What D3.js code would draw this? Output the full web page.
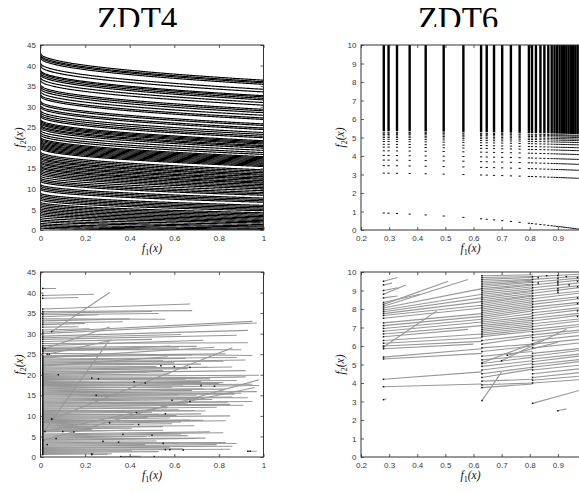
<!DOCTYPE html>
<html>
<head>
<meta charset="utf-8">
<script src="https://cdn.jsdelivr.net/npm/d3@7"></script>
<style>
  html, body { margin: 0; padding: 0; background: #fff; }
  svg { display: block; }
  .tick text { font-family: "Liberation Sans", Arial, sans-serif; font-size: 8px; fill: #3a3a3a; }
  .tick line { stroke: #333; stroke-width: 0.8; }
</style>
</head>
<body>
<script>
// ---------------- data ----------------
const titles = ["ZDT4", "ZDT6"];

// ZDT4 front levels: g values (f2 at f1 = 0) of the plotted fronts
const zdt4Levels = [
  43.0, 42.6, 42.3, 41.9, 40.6, 39.9, 38.9, 38.6, 38.2, 37.8, 37.1, 36.4,
  35.3, 34.9, 34.4, 33.7, 33.0, 32.6, 31.4, 31.0, 30.3, 29.9, 29.1, 28.6,
  28.1, 27.7, 26.9, 26.6, 26.3, 26.0, 25.6, 25.3, 24.9, 24.3, 23.7, 23.2,
  22.6, 22.3, 22.0, 21.7, 21.4, 21.1, 20.8, 20.5, 20.2, 19.9, 19.0, 18.6,
  18.2, 17.8, 17.5, 17.1, 16.7, 16.4, 16.0, 15.6, 15.3, 14.9, 14.5, 14.1,
  13.7, 13.2, 12.7, 12.3, 11.9, 11.1, 10.7, 10.3, 9.9, 9.0, 8.6, 8.2,
  7.8, 7.4, 6.8, 6.4, 6.0, 5.6, 5.2, 4.8, 4.4, 4.0, 3.6, 3.1, 2.6, 2.2,
  1.7, 1.3, 0.9, 0.5
];

// ZDT6 front: f1 columns, sparse g levels, and g above which columns are solid
const zdt6Columns = [
  0.281, 0.298, 0.328, 0.373, 0.430, 0.494, 0.564, 0.627, 0.647, 0.673,
  0.702, 0.733, 0.764, 0.797, 0.808, 0.822, 0.838, 0.852, 0.866, 0.878,
  0.888, 0.897, 0.906, 0.914, 0.922, 0.930, 0.938, 0.946, 0.954, 0.962,
  0.970, 0.978, 0.986, 0.994
];
const zdt6SparseLevels = [1.0, 3.1, 3.5, 3.8, 4.05, 4.3, 4.5, 4.65, 4.8, 4.92, 5.02, 5.1, 5.18, 5.25, 5.3];
const zdt6DenseFrom = 5.36;

// ZDT4 search trails: [f1 start, f2 start, f1 end, f2 end]
const zdt4Trails = [
  [0.01,41.0,0.07,41.0],[0.01,39.3,0.24,39.6],[0.01,38.6,0.17,38.8],[0.05,30.5,0.31,40.0],
  [0.01,36.0,0.67,37.2],[0.01,35.4,0.68,35.6],[0.01,35.0,0.50,35.4],[0.01,34.6,0.53,34.9],
  [0.01,34.1,0.26,34.6],[0.01,33.6,0.56,33.5],[0.01,33.1,0.40,33.6],[0.01,32.6,0.37,32.9],
  [0.01,32.2,0.20,32.5],[0.01,31.6,0.17,31.7],[0.01,30.9,0.22,31.2],[0.01,30.4,0.95,33.0],
  [0.01,30.0,0.97,32.6],[0.01,29.4,0.93,30.8],[0.02,26.4,0.31,31.6],[0.01,29.0,0.63,29.8],
  [0.01,28.6,0.88,29.6],[0.01,28.1,0.50,28.6],[0.01,27.6,0.93,27.8],[0.01,27.1,0.73,28.4],
  [0.01,26.7,0.70,26.9],[0.01,26.1,0.90,26.1],[0.01,25.6,0.58,27.0],[0.01,25.2,0.95,24.7],
  [0.01,24.6,0.83,25.1],[0.03,25.0,0.32,28.4],[0.01,24.1,0.78,26.7],[0.01,23.6,0.65,24.0],
  [0.01,23.1,0.82,23.3],[0.01,22.6,0.60,22.9],[0.01,22.1,0.57,24.4],[0.01,21.6,0.75,21.8],
  [0.01,21.1,0.66,21.5],[0.01,20.6,0.55,21.0],[0.01,20.1,0.48,20.6],[0.01,19.6,0.98,19.9],
  [0.01,19.1,0.70,19.3],[0.01,18.6,0.92,19.5],[0.01,18.1,0.82,18.1],[0.01,17.6,0.80,17.9],
  [0.01,17.1,0.64,17.5],[0.01,16.6,0.98,17.4],[0.01,16.1,0.73,16.6],[0.01,15.6,0.97,15.9],
  [0.01,15.1,0.90,15.5],[0.01,14.6,0.70,14.9],[0.01,14.1,0.86,14.6],[0.01,13.6,0.77,14.0],
  [0.01,13.1,0.95,13.5],[0.01,12.6,0.85,12.8],[0.01,12.1,0.60,12.6],[0.01,11.6,0.79,12.1],
  [0.01,11.1,0.62,11.5],[0.01,10.6,0.50,10.9],[0.01,10.1,0.72,10.5],[0.01,9.6,0.85,10.0],
  [0.01,9.1,0.58,9.5],[0.01,8.6,0.67,9.0],[0.01,8.1,0.63,8.5],[0.01,7.6,0.42,7.9],
  [0.01,7.1,0.55,7.4],[0.01,6.6,0.23,6.7],[0.01,6.1,0.40,6.5],[0.01,5.6,0.76,6.1],
  [0.01,5.1,0.63,5.6],[0.01,4.6,0.47,5.0],[0.01,4.1,0.70,4.5],[0.01,3.6,0.88,3.3],
  [0.01,3.1,0.62,3.4],[0.01,2.6,0.79,3.0],[0.01,2.1,0.58,2.4],[0.01,1.6,0.85,1.9],
  [0.01,1.1,0.53,1.3],[0.01,0.6,0.32,0.8],[0.23,0.6,0.30,0.7],[0.36,0.1,0.45,0.2],
  [0.93,1.4,0.97,1.4],[0.01,5.8,0.31,28.5],[0.01,4.0,0.98,18.8],[0.02,6.2,0.96,16.9],
  [0.05,9.2,0.86,26.6],
  [0.01,26.35,0.62,26.5],[0.01,25.85,0.45,26.2],[0.01,24.35,0.68,24.8],[0.01,23.85,0.88,24.2],
  [0.01,23.35,0.55,23.4],[0.01,22.85,0.92,23.6],[0.01,22.35,0.72,22.6],[0.01,21.85,0.52,22.0],
  [0.01,21.35,0.86,21.9],[0.01,20.85,0.61,20.8],[0.01,20.35,0.92,21.0],[0.01,19.85,0.58,20.2],
  [0.01,19.35,0.76,19.0],[0.01,18.85,0.65,18.9],[0.01,18.35,0.88,18.6],[0.01,17.85,0.72,18.4],
  [0.01,17.35,0.95,17.7],[0.01,16.85,0.59,17.0],[0.01,16.35,0.83,16.5],[0.01,15.85,0.68,16.2],
  [0.01,15.35,0.87,15.3],[0.01,14.85,0.62,15.1],[0.01,14.35,0.93,14.4],[0.01,13.85,0.71,14.2],
  [0.01,13.35,0.84,13.3],[0.01,12.85,0.66,13.1],[0.01,12.35,0.91,12.6],[0.01,11.85,0.57,12.0],
  [0.01,11.35,0.74,11.2],[0.01,10.85,0.69,11.3],[0.01,10.35,0.53,10.4],[0.01,9.85,0.61,10.1],
  [0.01,9.35,0.48,9.6],[0.01,8.85,0.73,8.9],[0.01,8.35,0.83,8.8],[0.01,7.85,0.59,8.1],
  [0.01,7.35,0.69,7.6],[0.01,6.85,0.41,7.0],[0.01,6.35,0.55,6.5],[0.01,5.35,0.82,5.9],
  [0.01,4.85,0.66,5.2],[0.01,4.35,0.74,4.6],[0.01,3.85,0.52,3.9],[0.01,3.35,0.83,3.5],
  [0.01,2.85,0.47,3.0],[0.01,2.35,0.86,2.6],[0.01,1.85,0.64,2.0],[0.01,1.35,0.41,1.5],
  [0.01,0.85,0.24,0.9]
];
const zdt4Points = [
  [0.04,25.0],[0.08,20.0],[0.05,9.2],[0.03,3.0],[0.07,4.5],[0.10,6.2],[0.15,6.1],[0.23,19.2],
  [0.26,19.0],[0.25,15.0],[0.28,3.8],[0.31,8.3],[0.35,3.6],[0.37,5.5],[0.42,18.3],[0.43,10.8],
  [0.44,7.9],[0.47,18.0],[0.50,5.3],[0.54,22.2],[0.55,3.3],[0.56,10.5],[0.56,1.8],[0.58,1.8],
  [0.59,13.8],[0.60,22.0],[0.64,1.7],[0.67,21.8],[0.67,13.5],[0.72,17.4],[0.78,17.2],[0.94,1.4],
  [0.23,0.7],[0.51,0.1]
];

// ZDT6 search trails: [f1 start, f2 start, f1 end, f2 end]
const zdt6Trails = [
  [0.28,9.5,0.33,9.7],[0.28,9.3,0.31,9.4],[0.28,9.0,0.33,9.15],[0.28,8.8,0.36,9.3],
  [0.28,8.6,0.33,8.7],[0.28,8.35,0.41,8.8],[0.28,8.25,0.51,9.5],[0.28,8.15,0.58,9.6],
  [0.28,8.05,0.63,9.1],[0.28,7.95,0.63,8.8],[0.28,7.85,0.63,8.6],[0.28,7.75,0.63,8.4],
  [0.28,7.65,0.63,8.2],[0.28,7.5,0.63,8.05],[0.28,7.25,0.63,7.75],[0.28,7.1,0.63,7.6],
  [0.28,6.95,0.63,7.45],[0.28,6.8,0.63,7.3],[0.28,6.65,0.63,7.1],[0.28,6.5,0.58,6.9],
  [0.28,6.3,0.63,6.65],[0.28,6.15,0.63,6.45],[0.28,6.0,0.63,6.25],[0.28,5.95,0.47,7.9],
  [0.28,5.85,0.60,6.1],[0.28,5.4,0.63,5.85],[0.28,5.3,0.63,5.6],[0.28,4.2,0.63,4.6],
  [0.28,3.8,0.63,3.95],[0.28,3.1,0.29,3.15],
  [0.63,9.8,0.81,9.85],[0.63,9.7,0.81,9.75],[0.63,9.6,0.81,9.7],[0.63,9.5,0.81,9.6],
  [0.63,9.4,0.81,9.55],[0.63,9.3,0.81,9.5],[0.63,9.2,0.81,9.45],[0.63,9.1,0.81,9.35],
  [0.63,9.0,0.81,9.3],[0.63,8.9,0.81,9.2],[0.63,8.8,0.81,9.1],[0.63,8.7,0.81,9.0],
  [0.63,8.6,0.81,8.95],[0.63,8.5,0.81,8.85],[0.63,8.4,0.81,8.75],[0.63,8.3,0.81,8.7],
  [0.63,8.2,0.81,8.6],[0.63,8.1,0.81,8.5],[0.63,8.0,0.81,8.4],[0.63,7.9,0.81,8.3],
  [0.63,7.8,0.81,8.2],[0.63,7.7,0.81,8.1],[0.63,7.6,0.81,8.0],[0.63,7.5,0.81,7.9],
  [0.63,7.4,0.81,7.75],[0.63,7.3,0.81,7.6],[0.63,7.2,0.81,7.5],[0.63,7.1,0.81,7.4],
  [0.63,7.0,0.81,7.3],[0.63,6.9,0.81,7.2],[0.63,6.8,0.81,7.1],[0.63,6.7,0.81,7.0],
  [0.63,6.6,0.81,6.9],[0.63,6.5,0.81,6.8],[0.63,6.3,0.81,6.6],[0.63,6.1,0.81,6.5],
  [0.63,5.9,0.81,6.1],[0.63,5.7,0.81,6.0],[0.63,5.45,0.81,5.7],[0.63,5.25,0.81,5.5],
  [0.63,5.05,0.81,5.4],[0.63,4.9,0.81,5.2],[0.63,4.7,0.81,5.05],[0.63,4.5,0.81,4.85],
  [0.63,4.3,0.81,4.75],[0.63,4.1,0.81,4.2],[0.63,3.9,0.81,4.0],[0.63,3.75,0.81,3.95],
  [0.63,3.05,0.70,4.6],[0.63,5.1,0.84,6.3],[0.70,5.2,0.93,6.9],[0.72,5.5,0.90,6.2],
  [0.81,9.75,1.0,9.9],[0.81,9.6,1.0,9.8],[0.81,9.45,1.0,9.7],[0.81,9.3,1.0,9.6],
  [0.81,9.15,1.0,9.45],[0.81,9.0,1.0,9.3],[0.81,8.85,1.0,9.2],[0.81,8.7,1.0,9.0],
  [0.81,8.55,1.0,8.9],[0.81,8.4,1.0,8.7],[0.81,8.25,1.0,8.6],[0.81,8.1,1.0,8.4],
  [0.81,7.95,1.0,8.3],[0.81,7.8,1.0,8.1],[0.81,7.65,1.0,8.0],[0.81,7.5,1.0,7.8],
  [0.81,7.35,1.0,7.7],[0.81,7.2,1.0,7.5],[0.81,7.05,1.0,7.4],[0.81,6.9,1.0,7.2],
  [0.81,6.75,1.0,7.1],[0.81,6.6,1.0,6.9],[0.81,6.45,1.0,6.8],[0.81,6.3,1.0,6.6],
  [0.81,6.1,1.0,6.4],[0.81,5.9,1.0,6.2],[0.81,5.6,1.0,5.9],[0.81,5.45,1.0,5.8],
  [0.81,5.3,1.0,5.6],[0.81,5.15,1.0,5.5],[0.81,5.0,1.0,5.3],[0.81,4.85,1.0,5.2],
  [0.81,4.7,1.0,5.0],[0.81,4.5,1.0,4.8],[0.81,4.3,1.0,4.6],[0.81,4.15,1.0,4.4],
  [0.81,4.0,1.0,4.2],[0.81,2.9,1.0,3.7],[0.90,2.5,0.93,2.6]
];
const zdt6Points = [
  [0.90,9.8],[0.90,9.65],[0.90,9.5],[0.90,9.4],[0.90,9.3],[0.90,9.1],[0.90,9.0],[0.90,8.9],
  [0.97,9.7],[0.97,9.5],[0.97,9.2],[0.97,8.6],[0.97,8.3],[0.97,7.9],[0.97,7.6],
  [0.83,9.7],[0.83,9.4],[0.86,9.8],[0.93,9.75],[0.94,9.3]
];

// ---------------- layout ----------------
const W = 579, H = 493;
const svg = d3.select("body").append("svg").attr("width", W).attr("height", H);

const panels = [
  { key: "a", left: 40.5, top: 45,  w: 223, h: 185, xd: [0, 1],   yd: [0, 45],
    xt: [0, 0.2, 0.4, 0.6, 0.8, 1], yt: d3.range(0, 46, 5) },
  { key: "b", left: 361,  top: 45,  w: 225, h: 185, xd: [0.2, 1], yd: [0, 10],
    xt: [0.2, 0.3, 0.4, 0.5, 0.6, 0.7, 0.8, 0.9], yt: d3.range(0, 11, 1) },
  { key: "c", left: 40.5, top: 272, w: 223, h: 185, xd: [0, 1],   yd: [0, 45],
    xt: [0, 0.2, 0.4, 0.6, 0.8, 1], yt: d3.range(0, 46, 5) },
  { key: "d", left: 361,  top: 272, w: 225, h: 185, xd: [0.2, 1], yd: [0, 10],
    xt: [0.2, 0.3, 0.4, 0.5, 0.6, 0.7, 0.8, 0.9], yt: d3.range(0, 11, 1) }
];

const fmt = v => String(+v.toFixed(1));

panels.forEach(p => {
  p.x = d3.scaleLinear().domain(p.xd).range([0, p.w]);
  p.y = d3.scaleLinear().domain(p.yd).range([p.h, 0]);
  p.g = svg.append("g").attr("transform", `translate(${p.left},${p.top})`);
  svg.append("clipPath").attr("id", "clip-" + p.key)
    .append("rect").attr("width", p.w).attr("height", p.h);
  p.plot = p.g.append("g").attr("clip-path", `url(#clip-${p.key})`);
});

// ---------------- ZDT4 fronts ----------------
{
  const p = panels[0];
  const f1 = d3.range(0, 1.0001, 0.004);
  const line = d3.line().x(d => p.x(d[0])).y(d => p.y(d[1]));
  p.plot.selectAll("path.front").data(zdt4Levels).join("path")
    .attr("class", "front")
    .attr("d", g => line(f1.map(v => [v, g - Math.sqrt(g * v)])))
    .attr("fill", "none").attr("stroke", "#000").attr("stroke-width", 1.15);
}

// ---------------- ZDT6 fronts ----------------
{
  const p = panels[1];
  const f2 = (f, g) => g - f * f / g;
  p.plot.selectAll("rect.col").data(zdt6Columns).join("rect")
    .attr("class", "col")
    .attr("x", c => p.x(c) - 1.2).attr("width", 2.4)
    .attr("y", p.y(10.5))
    .attr("height", c => p.y(f2(c, zdt6DenseFrom)) - p.y(10.5))
    .attr("fill", "#000");
  const dots = [];
  zdt6Columns.forEach(c => zdt6SparseLevels.forEach(g => dots.push([c, f2(c, g)])));
  p.plot.selectAll("rect.dot").data(dots).join("rect")
    .attr("class", "dot")
    .attr("x", d => p.x(d[0]) - 1.1).attr("width", 2.2)
    .attr("y", d => p.y(d[1]) - 0.5).attr("height", 1)
    .attr("fill", "#111");
}

// ---------------- search trails ----------------
function trails(p, segs, pts) {
  p.plot.selectAll("line.trail").data(segs).join("line")
    .attr("class", "trail")
    .attr("x1", d => p.x(d[0])).attr("y1", d => p.y(d[1]))
    .attr("x2", d => p.x(d[2])).attr("y2", d => p.y(d[3]))
    .attr("stroke", "#979797").attr("stroke-width", 1.1);
  const marks = segs.map(d => [d[0], d[1]]).concat(pts);
  p.plot.selectAll("rect.mk").data(marks).join("rect")
    .attr("class", "mk")
    .attr("x", d => p.x(d[0]) - 0.75).attr("y", d => p.y(d[1]) - 0.75)
    .attr("width", 1.5).attr("height", 1.5).attr("fill", "#111");
}
trails(panels[2], zdt4Trails, zdt4Points);
trails(panels[3], zdt6Trails, zdt6Points);

// ---------------- axes ----------------
panels.forEach(p => {
  const tk = 3;
  p.g.append("g").attr("transform", `translate(0,${p.h})`)
    .call(d3.axisBottom(p.x).tickValues(p.xt).tickSize(-tk).tickPadding(5).tickFormat(fmt))
    .call(s => s.select(".domain").remove());
  p.g.append("g")
    .call(d3.axisTop(p.x).tickValues(p.xt).tickSize(-tk).tickFormat(""))
    .call(s => s.select(".domain").remove());
  p.g.append("g")
    .call(d3.axisLeft(p.y).tickValues(p.yt).tickSize(-tk).tickPadding(4.5).tickFormat(fmt))
    .call(s => s.select(".domain").remove());
  p.g.append("g").attr("transform", `translate(${p.w},0)`)
    .call(d3.axisRight(p.y).tickValues(p.yt).tickSize(-tk).tickFormat(""))
    .call(s => s.select(".domain").remove());
  p.g.selectAll(".tick text").attr("fill", "#3a3a3a");
  p.g.append("rect").attr("width", p.w).attr("height", p.h)
    .attr("fill", "none").attr("stroke", "#333").attr("stroke-width", 1);

  // axis labels
  const lab = (sel, sub) => {
    sel.append("tspan").text("f");
    sel.append("tspan").attr("font-size", "0.7em").attr("dy", 3).attr("font-style", "normal").text(sub);
    sel.append("tspan").attr("dy", -3).text("(");
    sel.append("tspan").text("x");
    sel.append("tspan").text(")");
  };
  const xl = p.g.append("text")
    .attr("x", p.w / 2 - (p.key === "b" || p.key === "d" ? 3 : 0)).attr("y", p.h + 22)
    .attr("text-anchor", "middle")
    .attr("font-family", "'Liberation Serif', 'DejaVu Serif', serif")
    .attr("font-style", "italic").attr("font-size", 11.5).attr("fill", "#111");
  lab(xl, "1");
  const yl = p.g.append("text")
    .attr("transform", `translate(-17.5,${p.h / 2}) rotate(-90)`)
    .attr("text-anchor", "middle")
    .attr("font-family", "'Liberation Serif', 'DejaVu Serif', serif")
    .attr("font-style", "italic").attr("font-size", 11.5).attr("fill", "#111");
  lab(yl, "2");
});

// ---------------- titles ----------------
svg.append("clipPath").attr("id", "clip-title")
  .append("rect").attr("x", 0).attr("y", 0).attr("width", W).attr("height", 27);
svg.append("g").attr("clip-path", "url(#clip-title)")
  .selectAll("text").data(titles).join("text")
  .attr("x", (d, i) => i === 0 ? 137 : 458).attr("y", 30)
  .attr("text-anchor", "middle")
  .attr("font-family", "'Liberation Serif', 'DejaVu Serif', serif")
  .attr("font-size", 33).attr("fill", "#000")
  .text(d => d);
</script>
</body>
</html>
